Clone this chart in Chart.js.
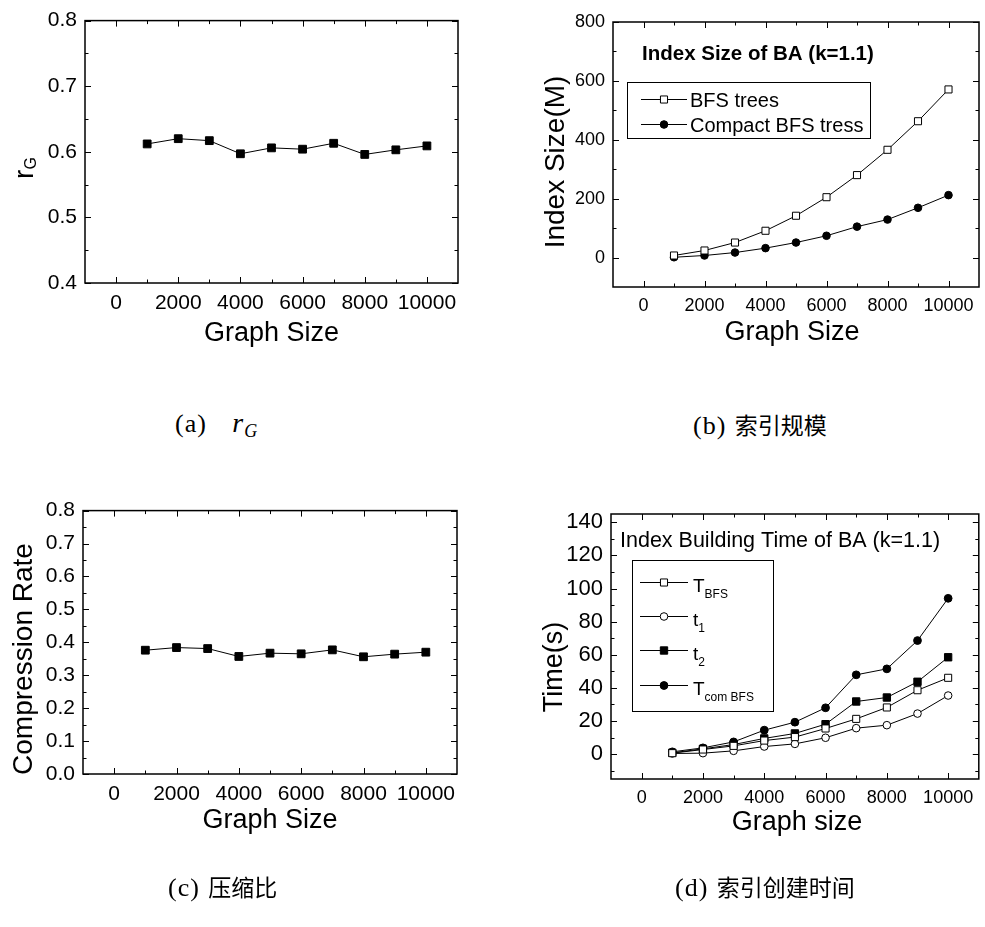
<!DOCTYPE html>
<html>
<head>
<meta charset="utf-8">
<title>BA graph index experiments</title>
<script src="https://cdn.jsdelivr.net/npm/chart.js@4.4.1/dist/chart.umd.min.js"></script>
<style>
    body { margin: 0; background: #fff; width: 985px; height: 927px; position: relative; overflow: hidden; }
    .panel { position: absolute; }
    .caption {
        position: absolute;
        font-family: "Liberation Serif", "DejaVu Serif", serif;
        font-size: 26px;
        letter-spacing: 1px;
        color: #000;
        white-space: nowrap;
    }
    .caption .cjk { font-family: "Noto Sans CJK SC", sans-serif; font-size: 23px; letter-spacing: 0; margin-left: 1px; }
    .caption .math { margin-left: 18px; font-size: 28px; }
    .caption sub { font-size: 18px; vertical-align: -5px; }
</style>
</head>
<body>

<div class="panel" style="left:0;top:0"><canvas id="chart-rg" width="490" height="380"></canvas></div>
<div class="panel" style="left:500px;top:0"><canvas id="chart-size" width="485" height="380"></canvas></div>
<div class="panel" style="left:0;top:490px"><canvas id="chart-rate" width="490" height="380"></canvas></div>
<div class="panel" style="left:500px;top:490px"><canvas id="chart-time" width="485" height="380"></canvas></div>

<div class="caption" style="left:175px;top:407px">(a) <span class="math"><i>r</i><sub><i>G</i></sub></span></div>
<div class="caption" style="left:693px;top:407px">(b) <span class="cjk">索引规模</span></div>
<div class="caption" style="left:168px;top:869px">(c) <span class="cjk">压缩比</span></div>
<div class="caption" style="left:675px;top:869px">(d) <span class="cjk">索引创建时间</span></div>

<script>
// ---- data ----
const graphSizes = [1000, 2000, 3000, 4000, 5000, 6000, 7000, 8000, 9000, 10000];
const xTickValues = [0, 2000, 4000, 6000, 8000, 10000];

const rgValues = [0.612, 0.620, 0.617, 0.597, 0.606, 0.604, 0.613, 0.596, 0.603, 0.609];
const rgTicks = [0.4, 0.5, 0.6, 0.7, 0.8];

const bfsTreeSizes = [7, 24, 51, 91, 142, 205, 280, 366, 463, 571];
const compactBfsSizes = [1, 7, 17, 32, 51, 74, 105, 129, 169, 212];
const indexSizeTicks = [0, 200, 400, 600, 800];

const compressionValues = [0.376, 0.384, 0.381, 0.357, 0.367, 0.365, 0.377, 0.356, 0.364, 0.370];
const compressionTicks = [0.0, 0.1, 0.2, 0.3, 0.4, 0.5, 0.6, 0.7, 0.8];

const tBfsTimes = [0.6, 2.8, 5.0, 8.2, 10.3, 15.5, 21.3, 28.2, 38.6, 46.1];
const t1Times = [0.4, 0.6, 2.0, 4.6, 6.2, 9.9, 15.7, 17.5, 24.5, 35.4];
const t2Times = [0.8, 3.2, 5.8, 9.5, 12.5, 18.1, 31.8, 34.2, 43.7, 58.5];
const tComBfsTimes = [1.4, 3.8, 7.4, 14.5, 19.3, 28.0, 47.9, 51.5, 68.6, 94.1];
const timeTicks = [0, 20, 40, 60, 80, 100, 120, 140];

const FONT = '"Liberation Sans", Arial, sans-serif';
Chart.defaults.font.family = FONT;
Chart.defaults.color = '#000';

/**
 * Minor ticks halfway between the major ones, kept inside (min, max)
 */
function minorTicks(majors, min, max) {
    const half = (majors[1] - majors[0]) / 2;
    const out = [majors[0] - half];
    majors.forEach(v => out.push(v + half));
    return out.filter(v => v > min + 1e-9 && v < max - 1e-9);
}

/**
 * Draw a run of text parts (for subscripts) starting at 0,0 of current transform
 */
function drawParts(ctx, parts, align) {
    let total = 0;
    parts.forEach(p => {
        ctx.font = `${p.bold ? 'bold ' : ''}${p.size}px ${FONT}`;
        p.w = ctx.measureText(p.t).width;
        total += p.w + (p.gap || 0);
    });
    let x = align === 'center' ? -total / 2 : 0;
    parts.forEach(p => {
        ctx.font = `${p.bold ? 'bold ' : ''}${p.size}px ${FONT}`;
        x += (p.gap || 0);
        ctx.fillText(p.t, x, p.dy || 0);
        x += p.w;
    });
}

// Origin-style box with inward ticks on all four sides
const originFrame = {
    id: 'originFrame',
    afterDatasetsDraw(chart) {
        const { ctx, chartArea: a, scales: { x, y } } = chart;
        const xMaj = xTickValues;
        const xMin = minorTicks(xMaj, x.min, x.max);
        const yMaj = y.ticks.map(t => t.value);
        const yMin = minorTicks(yMaj, y.min, y.max);
        ctx.save();
        ctx.strokeStyle = '#000';
        ctx.lineWidth = 1;
        ctx.beginPath();
        const vx = (v, len) => {
            const px = Math.round(x.getPixelForValue(v)) + 0.5;
            ctx.moveTo(px, a.bottom); ctx.lineTo(px, a.bottom - len);
            ctx.moveTo(px, a.top); ctx.lineTo(px, a.top + len);
        };
        const vy = (v, len) => {
            const py = Math.round(y.getPixelForValue(v)) + 0.5;
            ctx.moveTo(a.left, py); ctx.lineTo(a.left + len, py);
            ctx.moveTo(a.right, py); ctx.lineTo(a.right - len, py);
        };
        xMaj.forEach(v => vx(v, 6));
        xMin.forEach(v => vx(v, 3.5));
        yMaj.forEach(v => vy(v, 6));
        yMin.forEach(v => vy(v, 3.5));
        ctx.stroke();
        ctx.lineWidth = 1.5;
        ctx.strokeRect(a.left, a.top, a.right - a.left, a.bottom - a.top);
        ctx.restore();
    }
};

// Axis titles, in-plot titles and the boxed legend
const panelText = {
    id: 'panelText',
    afterDraw(chart, args, opts) {
        const ctx = chart.ctx;
        const a = chart.chartArea;
        ctx.save();
        ctx.fillStyle = '#000';
        ctx.textBaseline = 'alphabetic';
        ctx.textAlign = 'left';

        // x axis title
        ctx.save();
        ctx.translate(opts.xTitle.cx != null ? opts.xTitle.cx : (a.left + a.right) / 2, opts.xTitle.baseline);
        drawParts(ctx, opts.xTitle.parts, 'center');
        ctx.restore();

        // y axis title, rotated
        ctx.save();
        ctx.translate(opts.yTitle.baseline, opts.yTitle.cy);
        ctx.rotate(-Math.PI / 2);
        drawParts(ctx, opts.yTitle.parts, 'center');
        ctx.restore();

        if (opts.title) {
            ctx.save();
            ctx.translate(opts.title.x, opts.title.baseline);
            drawParts(ctx, opts.title.parts, 'left');
            ctx.restore();
        }

        if (opts.legend) {
            const L = opts.legend;
            ctx.lineWidth = 1;
            ctx.strokeStyle = '#000';
            ctx.strokeRect(L.box[0] + 0.5, L.box[1] + 0.5, L.box[2], L.box[3]);
            L.rows.forEach((row, i) => {
                const ds = chart.data.datasets[i];
                ctx.beginPath();
                ctx.moveTo(L.lineX[0], row.lineY + 0.5);
                ctx.lineTo(L.lineX[1], row.lineY + 0.5);
                ctx.stroke();
                ctx.fillStyle = ds.pointBackgroundColor;
                ctx.strokeStyle = ds.pointBorderColor;
                Chart.helpers.drawPoint(ctx, {
                    pointStyle: ds.pointStyle,
                    radius: ds.pointRadius,
                    borderWidth: 1,
                    rotation: 0
                }, (L.lineX[0] + L.lineX[1]) / 2, row.lineY + 0.5);
                ctx.fillStyle = '#000';
                ctx.strokeStyle = '#000';
                ctx.save();
                ctx.translate(L.textX, row.baseline);
                drawParts(ctx, row.parts, 'left');
                ctx.restore();
            });
        }
        ctx.restore();
    }
};

function series(values, style) {
    return {
        data: graphSizes.map((g, i) => ({ x: g, y: values[i] })),
        borderColor: '#000',
        borderWidth: 1,
        tension: 0,
        pointStyle: style.shape,
        pointRadius: style.radius,
        pointBorderWidth: 1,
        pointBorderColor: '#000',
        pointBackgroundColor: style.filled ? '#000' : '#fff'
    };
}

function makeChart(id, cfg) {
    const canvas = document.getElementById(id);
    return new Chart(canvas.getContext('2d'), {
        type: 'line',
        data: { datasets: cfg.datasets },
        options: {
            responsive: false,
            animation: false,
            events: [],
            layout: { padding: { top: cfg.area.top, right: cfg.area.right, left: 0, bottom: 0 } },
            plugins: {
                legend: { display: false },
                tooltip: { enabled: false },
                panelText: cfg.text
            },
            scales: {
                x: {
                    type: 'linear',
                    min: -1000,
                    max: 11000,
                    afterFit(s) { s.height = cfg.area.xHeight; },
                    afterBuildTicks(s) { s.ticks = xTickValues.map(v => ({ value: v })); },
                    grid: { display: false, drawTicks: false },
                    border: { display: false },
                    ticks: {
                        font: { size: cfg.xFont },
                        color: '#000',
                        padding: 8,
                        maxRotation: 0,
                        autoSkip: false,
                        callback: v => String(v)
                    }
                },
                y: {
                    type: 'linear',
                    min: cfg.yRange[0],
                    max: cfg.yRange[1],
                    afterFit(s) { s.width = cfg.area.left; },
                    afterBuildTicks(s) { s.ticks = cfg.yTicks.map(v => ({ value: v })); },
                    grid: { display: false, drawTicks: false },
                    border: { display: false },
                    ticks: {
                        font: { size: cfg.yFont },
                        color: '#000',
                        padding: 8,
                        autoSkip: false,
                        callback: cfg.yFormat
                    }
                }
            }
        },
        plugins: [originFrame, panelText]
    });
}

// (a) r_G
makeChart('chart-rg', {
    datasets: [series(rgValues, { shape: 'rect', radius: 5.5, filled: true })],
    area: { left: 85, top: 17, right: 32, xHeight: 97 },
    yRange: [0.4, 0.8],
    yTicks: rgTicks,
    yFormat: v => v.toFixed(1),
    xFont: 21, yFont: 21,
    text: {
        xTitle: { baseline: 341, parts: [{ t: 'Graph Size', size: 27 }] },
        yTitle: { baseline: 33, cy: 168, parts: [{ t: 'r', size: 28 }, { t: 'G', size: 16, dy: 3 }] }
    }
});

// (b) index size
makeChart('chart-size', {
    datasets: [
        series(bfsTreeSizes, { shape: 'rect', radius: 5, filled: false }),
        series(compactBfsSizes, { shape: 'circle', radius: 3.8, filled: true })
    ],
    area: { left: 113, top: 22, right: 1, xHeight: 93 },
    yRange: [-100, 800],
    yTicks: indexSizeTicks,
    yFormat: v => String(v),
    xFont: 18, yFont: 18,
    text: {
        xTitle: { baseline: 340, cx: 292, parts: [{ t: 'Graph Size', size: 27 }] },
        yTitle: { baseline: 64, cy: 162, parts: [{ t: 'Index Size(M)', size: 28 }] },
        title: { x: 142, baseline: 60, parts: [{ t: 'Index Size of BA (k=1.1)', size: 20.5, bold: true }] },
        legend: {
            box: [127, 82, 243, 56],
            lineX: [141, 187],
            textX: 190,
            rows: [
                { lineY: 99, baseline: 107, parts: [{ t: 'BFS trees', size: 20 }] },
                { lineY: 124, baseline: 132, parts: [{ t: 'Compact BFS tress', size: 20 }] }
            ]
        }
    }
});

// (c) compression rate
makeChart('chart-rate', {
    datasets: [series(compressionValues, { shape: 'rect', radius: 5.5, filled: true })],
    area: { left: 83, top: 18, right: 33, xHeight: 96 },
    yRange: [0, 0.8],
    yTicks: compressionTicks,
    yFormat: v => v.toFixed(1),
    xFont: 21, yFont: 21,
    text: {
        xTitle: { baseline: 338, parts: [{ t: 'Graph Size', size: 27 }] },
        yTitle: { baseline: 32, cy: 169, parts: [{ t: 'Compression Rate', size: 28 }] }
    }
});

// (d) index building time
makeChart('chart-time', {
    datasets: [
        series(tBfsTimes, { shape: 'rect', radius: 5, filled: false }),
        series(t1Times, { shape: 'circle', radius: 3.8, filled: false }),
        series(t2Times, { shape: 'rect', radius: 5.2, filled: true }),
        series(tComBfsTimes, { shape: 'circle', radius: 3.9, filled: true })
    ],
    area: { left: 111, top: 24, right: 1, xHeight: 91 },
    yRange: [-15, 145],
    yTicks: timeTicks,
    yFormat: v => String(v),
    xFont: 18, yFont: 22,
    text: {
        xTitle: { baseline: 340, cx: 297, parts: [{ t: 'Graph size', size: 27 }] },
        yTitle: { baseline: 62, cy: 177, parts: [{ t: 'Time(s)', size: 27 }] },
        title: { x: 120, baseline: 57, parts: [{ t: 'Index Building Time of BA (k=1.1)', size: 21.5 }] },
        legend: {
            box: [132, 70, 141, 151],
            lineX: [140, 188],
            textX: 193,
            rows: [
                { lineY: 92, baseline: 102, parts: [{ t: 'T', size: 19 }, { t: 'BFS', size: 12, dy: 6 }] },
                { lineY: 126, baseline: 136, parts: [{ t: 't', size: 19 }, { t: '1', size: 12, dy: 6 }] },
                { lineY: 160, baseline: 170, parts: [{ t: 't', size: 19 }, { t: '2', size: 12, dy: 6 }] },
                { lineY: 195, baseline: 205, parts: [{ t: 'T', size: 19 }, { t: 'com BFS', size: 12, dy: 6 }] }
            ]
        }
    }
});
</script>
</body>
</html>
